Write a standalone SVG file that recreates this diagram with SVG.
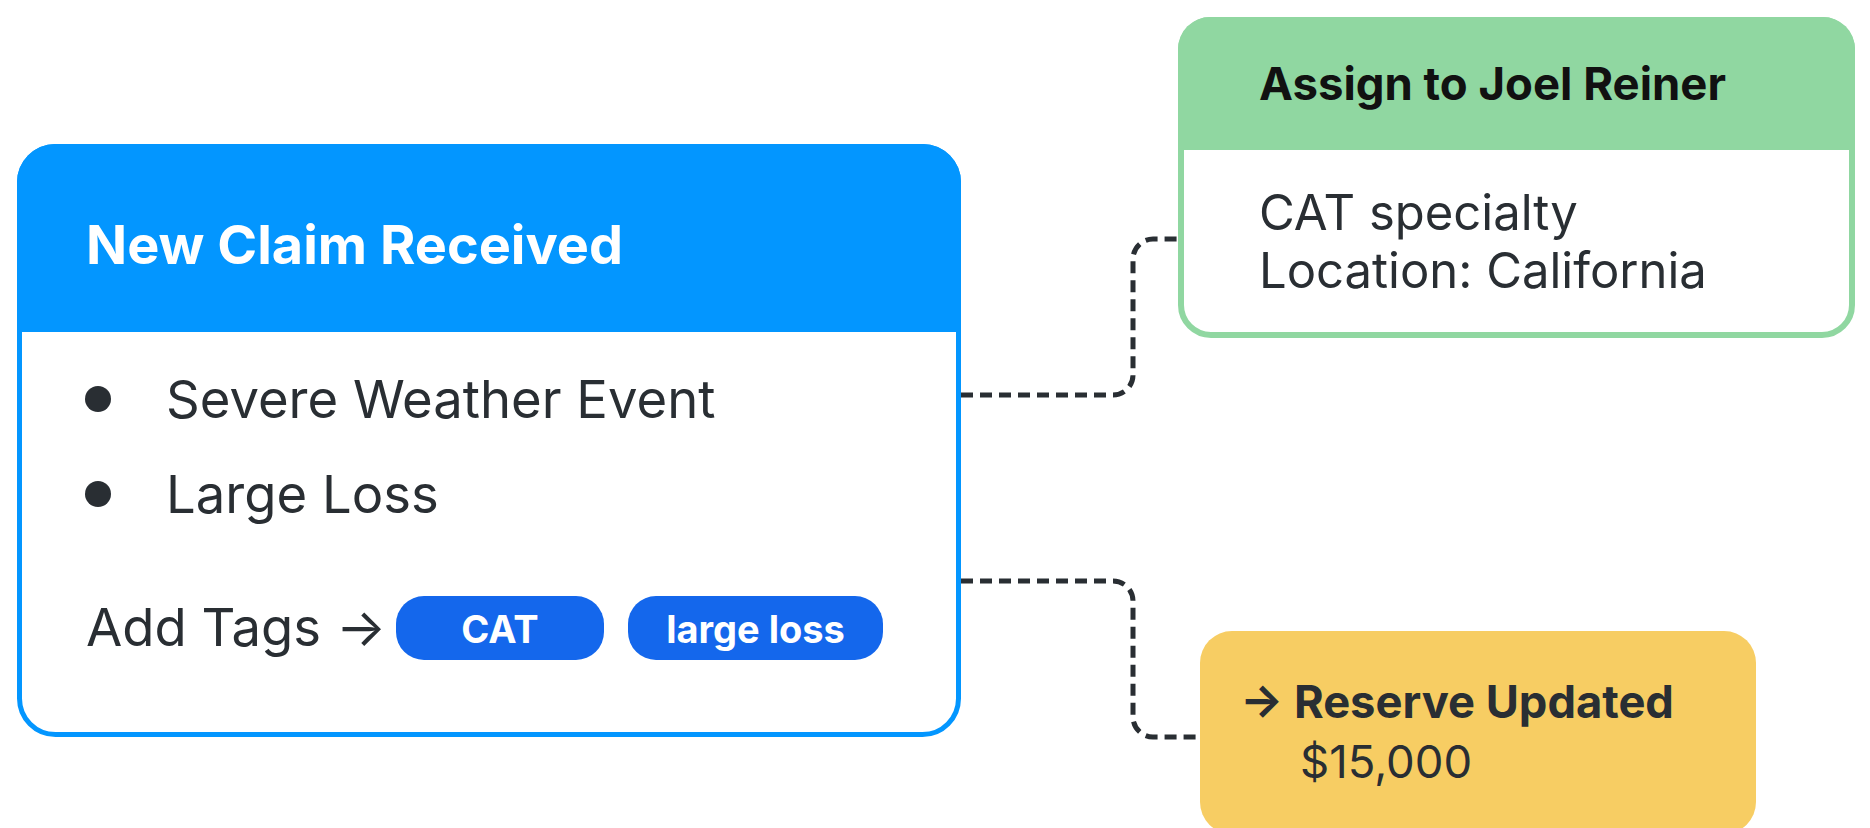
<svg xmlns="http://www.w3.org/2000/svg" width="1870" height="828" viewBox="0 0 1870 828">
  <style>
    .t { font-family: Inter, "Noto Sans", "Liberation Sans", sans-serif; }
    .body { fill: #292e33; font-weight: 400; }
    .bold { font-weight: 700; }
    .conn { fill: none; stroke: #292e33; stroke-width: 5; stroke-dasharray: 12 7; }
    .pill { fill: #1467ec; }
    .pilltxt { fill: #ffffff; font-size: 38px; font-weight: 700; text-anchor: middle; }
  </style>
  <rect x="0" y="0" width="1870" height="828" fill="#ffffff"/>

  <g id="connectors">
    <path class="conn" d="M961,395 H1113 A20,20 0 0 0 1133,375 V259 A20,20 0 0 1 1153,239 H1178"/>
    <path class="conn" d="M961,581 H1113 A20,20 0 0 1 1133,601 V717 A20,20 0 0 0 1153,737 H1200"/>
  </g>

  <g id="new-claim">
    <rect x="19.5" y="146.5" width="939" height="588" rx="36" fill="#ffffff" stroke="#0396ff" stroke-width="5"/>
    <path d="M17,332 V182 A38,38 0 0 1 55,144 H923 A38,38 0 0 1 961,182 V332 Z" fill="#0396ff"/>
    <text class="t bold" x="86" y="264" font-size="54" fill="#ffffff">New Claim Received</text>
    <circle cx="98" cy="399" r="13" fill="#292e33"/>
    <text class="t body" x="166" y="418" font-size="52.6">Severe Weather Event</text>
    <circle cx="98" cy="494" r="13" fill="#292e33"/>
    <text class="t body" x="166" y="513" font-size="52.6">Large Loss</text>
    <text class="t body" x="86" y="646" font-size="52.6">Add Tags →</text>
    <rect class="pill" x="396" y="596" width="208" height="64" rx="28"/>
    <text class="t pilltxt" x="500" y="643">CAT</text>
    <rect class="pill" x="628" y="596" width="255" height="64" rx="28"/>
    <text class="t pilltxt" x="755.5" y="643">large loss</text>
  </g>

  <g id="assign">
    <rect x="1181" y="20" width="671" height="315" rx="30" fill="#ffffff" stroke="#90d7a1" stroke-width="6"/>
    <path d="M1178,150 V49 A32,32 0 0 1 1210,17 H1823 A32,32 0 0 1 1855,49 V150 Z" fill="#90d7a1"/>
    <text class="t bold" x="1259" y="100" font-size="45.5" fill="#111111">Assign to Joel Reiner</text>
    <text class="t body" x="1259" y="230" font-size="49">CAT specialty</text>
    <text class="t body" x="1259" y="288" font-size="49">Location: California</text>
  </g>

  <g id="reserve">
    <rect x="1200" y="631" width="556" height="203" rx="32" fill="#f7cd63"/>
    <text class="t bold" x="1240" y="718" font-size="45.3" fill="#292e33">→ Reserve Updated</text>
    <text class="t body" x="1300" y="778" font-size="45.5">$15,000</text>
  </g>
</svg>
